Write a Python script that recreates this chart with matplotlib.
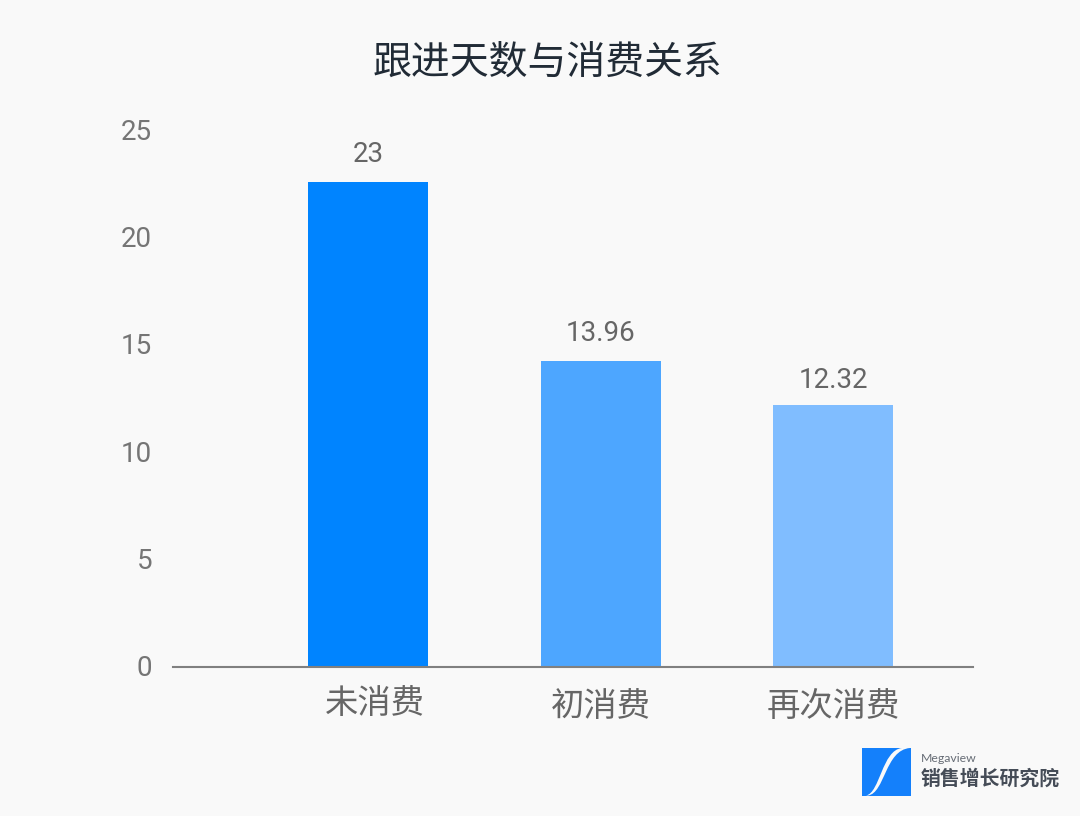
import matplotlib
matplotlib.use('Agg')
import matplotlib.pyplot as plt
from matplotlib.patches import PathPatch, Rectangle
from matplotlib.path import Path
from matplotlib.transforms import ScaledTranslation

plt.rcParams['font.family'] = ['Roboto', 'Noto Sans CJK SC', 'DejaVu Sans']

W, H = 1080, 816
BG = '#f9f9f9'

categories = ['未消费', '初消费', '再次消费']
bar_heights = [22.6, 14.28, 12.22]
bar_labels = ['23', '13.96', '12.32']
bar_colors = ['#0084ff', '#4da6ff', '#80bdff']
y_ticks = [0, 5, 10, 15, 20, 25]

fig = plt.figure(figsize=(W / 100, H / 100), dpi=100, facecolor=BG)

# 坐标区按像素位置放置
left, right, top, bottom = 173, 973, 131, 667
ax = fig.add_axes([left / W, 1 - bottom / H, (right - left) / W, (bottom - top) / H])
ax.set_facecolor(BG)

x = list(range(len(categories)))
ax.bar(x, bar_heights, width=0.516, color=bar_colors, zorder=2)
ax.set_xlim(-0.839, 2.602)
ax.set_ylim(0, 25)

# 数值标签与柱顶的距离（像素）
label_gaps = [28, 27, 25]
for i, label in enumerate(bar_labels):
    ax.annotate(label, (i, bar_heights[i]), xytext=(0, label_gaps[i]), textcoords='offset pixels',
                ha='center', va='center', fontsize=20, color='#666666')

for side in ['top', 'right', 'left']:
    ax.spines[side].set_visible(False)
ax.spines['bottom'].set_color('#808080')
ax.spines['bottom'].set_linewidth(1.5)
ax.spines['bottom'].set_zorder(3)

ax.set_yticks(y_ticks)
ax.tick_params(axis='y', length=0, pad=15, labelsize=20, labelcolor='#757575')
shift_up = ScaledTranslation(0, 1.5 / 100, fig.dpi_scale_trans)
for tick_label in ax.get_yticklabels():
    tick_label.set_transform(tick_label.get_transform() + shift_up)

ax.set_xticks(x)
ax.set_xticklabels(categories)
ax.tick_params(axis='x', length=0, pad=15, labelsize=24, labelcolor='#666666')
# 原图中各标签的位置略有偏移（像素）
label_shifts = [(7, 0), (0, -3), (0, -3)]
for tick_label, (dx, dy) in zip(ax.get_xticklabels(), label_shifts):
    tick_label.set_transform(tick_label.get_transform() + ScaledTranslation(dx / 100, dy / 100, fig.dpi_scale_trans))

fig.text(548 / W, 1 - 64 / H, '跟进天数与消费关系', ha='center', va='center',
         fontsize=28, color='#212b36')

# 右下角 logo
logo = fig.add_axes([0, 0, 1, 1], facecolor='none')
logo.set_xlim(0, W)
logo.set_ylim(H, 0)
logo.axis('off')
logo.add_patch(Rectangle((862, 748), 48.5, 47.5, color='#1480fb', lw=0))
s_curve = Path([(868, 795.5), (885, 793), (885, 750), (910, 748), (902, 748), (882, 750), (880, 793), (866, 795.5)],
               [Path.MOVETO, Path.CURVE4, Path.CURVE4, Path.CURVE4, Path.LINETO, Path.CURVE4, Path.CURVE4, Path.CURVE4])
logo.add_patch(PathPatch(s_curve, facecolor=BG, edgecolor='none'))
logo.text(921, 758, 'Megaview', fontsize=8.8, color='#666c75', va='center', family=['Lato', 'DejaVu Sans'])
logo.text(920.5, 779, '销售增长研究院', fontsize=14.3, color='#454c57', va='center', fontweight='bold')

fig.savefig('out.png', dpi=100, facecolor=BG)
